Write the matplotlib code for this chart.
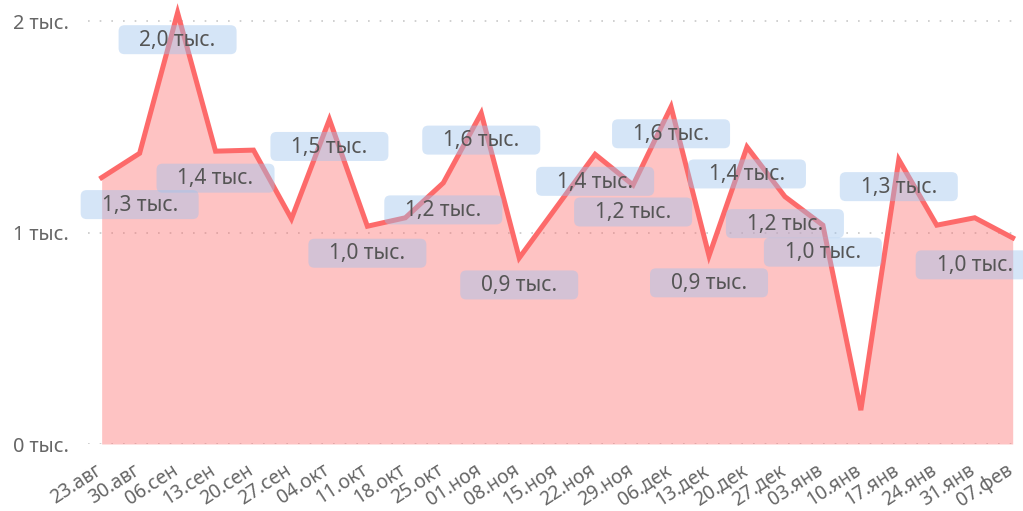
import matplotlib.pyplot as plt
import matplotlib.transforms as mtransforms
from matplotlib.patches import FancyBboxPatch

plt.rcParams['font.family'] = ['Noto Sans', 'DejaVu Sans']

dates = ['23.авг', '30.авг', '06.сен', '13.сен', '20.сен', '27.сен', '04.окт', '11.окт',
         '18.окт', '25.окт', '01.ноя', '08.ноя', '15.ноя', '22.ноя', '29.ноя', '06.дек',
         '13.дек', '20.дек', '27.дек', '03.янв', '10.янв', '17.янв', '24.янв', '31.янв',
         '07.фев']
values = [1260, 1375, 2040, 1385, 1390, 1065, 1535, 1030, 1070, 1235, 1565, 880, 1125,
          1370, 1225, 1595, 890, 1405, 1170, 1035, 160, 1345, 1035, 1070, 975]
# points that keep a data label (the rest are hidden as in the original)
labelled = [0, 2, 3, 6, 7, 9, 10, 11, 13, 14, 15, 16, 17, 18, 19, 21, 24]
yticks = [0, 1000, 2000]

line_color = '#FD6A6A'
x = list(range(len(dates)))

fig = plt.figure(figsize=(10.23, 5.11), dpi=100)
ax = fig.add_axes([88 / 1023, 67 / 511, 930 / 1023, 444 / 511])

ax.fill_between(x, values, 0, color=line_color, alpha=0.4, linewidth=0, zorder=1)
ax.plot(x, values, color=line_color, linewidth=3.6, solid_joinstyle='miter', zorder=2)

ax.set_xlim(-0.36, 24.14)
ax.set_ylim(0, 2100)
ax.set_yticks(yticks)
ax.set_yticklabels([f'{int(t / 1000)} тыс.' for t in yticks])
ax.set_xticks(x)
ax.set_xticklabels(dates, rotation=33, ha='right', rotation_mode='anchor')
ax.tick_params(axis='both', length=0, colors='#666666')
ax.tick_params(axis='y', pad=14, labelsize=14.3)
ax.tick_params(axis='x', pad=9, labelsize=13.8)
# nudge rotated date labels a little left/down like the original
shift = mtransforms.ScaledTranslation(-7 / 100, -4 / 100, fig.dpi_scale_trans)
for lab in ax.get_xticklabels():
    lab.set_transform(lab.get_transform() + shift)
for s in ax.spines.values():
    s.set_visible(False)
ax.grid(axis='y', color='#c8c8c8', linestyle=(0, (1, 6)), linewidth=1.2)
ax.set_axisbelow(True)

# data labels: rounded translucent boxes below the points
for i in labelled:
    v = values[i]
    dx = 0
    if i == 0:
        dx = 38
    elif i == len(values) - 1:
        dx = -38
    dy = -27
    tr = mtransforms.ScaledTranslation(x[i], v, ax.transData)
    box = FancyBboxPatch((dx - 59, dy - 14.5), 118, 29,
                         boxstyle='round,pad=0,rounding_size=6',
                         transform=mtransforms.IdentityTransform() + tr,
                         facecolor='#9bc2ee', alpha=0.42, edgecolor='none',
                         zorder=3, clip_on=False)
    ax.add_patch(box)
    txt = f'{v / 1000:.1f}'.replace('.', ',') + ' тыс.'
    ax.annotate(txt, (x[i], v), xytext=(dx * 0.72, dy * 0.72 - 0.5), textcoords='offset points',
                ha='center', va='center', fontsize=15, color='#555555', zorder=4,
                annotation_clip=False)

fig.savefig('out.png', dpi=100)
